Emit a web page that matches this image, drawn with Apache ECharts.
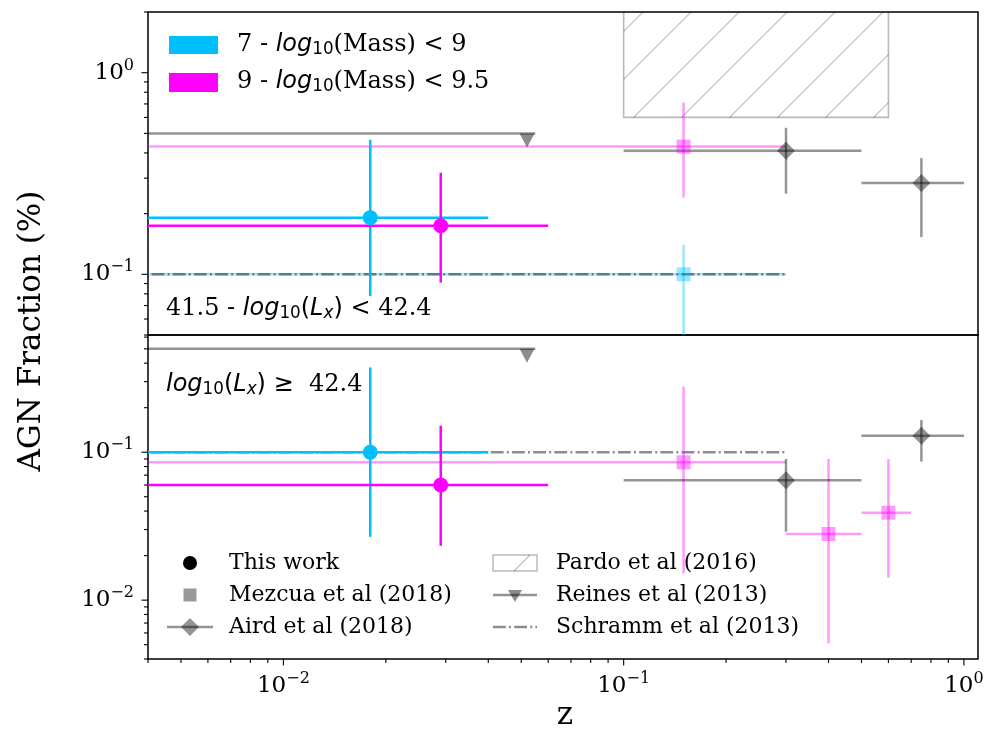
<!DOCTYPE html>
<html>
<head>
<meta charset="utf-8">
<script src="https://cdn.jsdelivr.net/npm/echarts@6/dist/echarts.min.js"></script>
<style>
html, body { margin: 0; padding: 0; background: #fff; }
#chart { width: 987px; height: 732px; }
</style>
</head>
<body>
<div id="chart"></div>
<script>
// ---------------- data (redshift z, AGN fraction) ----------------
// axis ranges
const zRange = [0.004, 1.1];
const fracRangeFaint = [0.05, 2];      // upper panel: 41.5 <= log Lx < 42.4
const fracRangeBright = [0.004, 0.62]; // lower panel: log Lx >= 42.4

// major tick values (labelled as powers of ten)
const zMajorTicks = [0.01, 0.1, 1];
const fracMajorTicksFaint = [0.1, 1];
const fracMajorTicksBright = [0.01, 0.1];

// This work: index 0 = 7-9 mass bin, index 1 = 9-9.5 mass bin
const thisWorkZ = [0.018, 0.029];
const thisWorkZLo = [0.002, 0.002];
const thisWorkZHi = [0.040, 0.060];
const thisWorkFaint = [0.191, 0.174];
const thisWorkFaintLo = [0.078, 0.091];
const thisWorkFaintHi = [0.465, 0.319];
const thisWorkBright = [0.100, 0.060];
const thisWorkBrightLo = [0.0268, 0.0233];
const thisWorkBrightHi = [0.374, 0.151];

// Mezcua et al (2018)
const mezcuaFaintLowMassZ = [0.15];
const mezcuaFaintLowMassZLo = [0.002];
const mezcuaFaintLowMassZHi = [0.3];
const mezcuaFaintLowMass = [0.10];
const mezcuaFaintLowMassLo = [0.03];
const mezcuaFaintLowMassHi = [0.14];

const mezcuaFaintHighMassZ = [0.15];
const mezcuaFaintHighMassZLo = [0.002];
const mezcuaFaintHighMassZHi = [0.3];
const mezcuaFaintHighMass = [0.43];
const mezcuaFaintHighMassLo = [0.24];
const mezcuaFaintHighMassHi = [0.71];

const mezcuaBrightZ = [0.15, 0.40, 0.60];
const mezcuaBrightZLo = [0.002, 0.3, 0.5];
const mezcuaBrightZHi = [0.3, 0.5, 0.7];
const mezcuaBright = [0.0855, 0.028, 0.039];
const mezcuaBrightLo = [0.0152, 0.0051, 0.0142];
const mezcuaBrightHi = [0.278, 0.090, 0.090];

// Aird et al (2018)
const airdZ = [0.3, 0.75];
const airdZLo = [0.1, 0.5];
const airdZHi = [0.5, 1.0];
const airdFaint = [0.41, 0.284];
const airdFaintLo = [0.251, 0.153];
const airdFaintHi = [0.533, 0.377];
const airdBright = [0.0646, 0.129];
const airdBrightLo = [0.029, 0.0864];
const airdBrightHi = [0.090, 0.165];

// Pardo et al (2016): shaded region
const pardoZ = [0.1, 0.6];
const pardoFrac = [0.6, 3];

// Reines et al (2013): upper limit
const reinesZ = [0.052];
const reinesZLo = [0.002];
const reinesZHi = [0.055];
const reinesFrac = [0.5];

// Schramm et al (2013)
const schrammZ = [0.002, 0.3];
const schrammFrac = [0.1];

// ---------------- styling ----------------
const SERIF = 'DejaVu Serif';
const SANS = 'DejaVu Sans';
const CYAN = '#00BFFF';
const MAGENTA = '#FF00FF';
const CYAN_A = 'rgba(0,191,255,0.4)';
const MAGENTA_A = 'rgba(255,0,255,0.4)';
const GREY_A = 'rgba(0,0,0,0.42)';
const HATCH = 'rgba(0,0,0,0.27)';
const LW = 2.5;

function rows(z, zLo, zHi, f, fLo, fHi) {
  return z.map((v, i) => [v, f[i], zLo[i], zHi[i], fLo[i], fHi[i]]);
}

function errorBars(name, data, color, gridIdx) {
  return {
    type: 'custom', name: name, xAxisIndex: gridIdx, yAxisIndex: gridIdx,
    clip: true, encode: { x: 0, y: 1 }, data: data,
    renderItem: function (params, api) {
      const c = api.coord([api.value(0), api.value(1)]);
      const l = api.coord([api.value(2), api.value(1)]);
      const r = api.coord([api.value(3), api.value(1)]);
      const b = api.coord([api.value(0), api.value(4)]);
      const t = api.coord([api.value(0), api.value(5)]);
      return { type: 'group', children: [
        { type: 'line', shape: { x1: l[0], y1: c[1], x2: r[0], y2: c[1] }, style: { stroke: color, lineWidth: LW } },
        { type: 'line', shape: { x1: c[0], y1: b[1], x2: c[0], y2: t[1] }, style: { stroke: color, lineWidth: LW } }
      ] };
    }
  };
}

function markers(name, data, symbol, size, color, gridIdx, extra) {
  return Object.assign({
    type: 'scatter', name: name, xAxisIndex: gridIdx, yAxisIndex: gridIdx,
    symbol: symbol, symbolSize: size, itemStyle: { color: color, opacity: 1 },
    data: data.map(d => [d[0], d[1]]), silent: true
  }, extra || {});
}

function hLine(name, zLo, zHi, frac, color, dash, gridIdx) {
  return {
    type: 'custom', name: name, xAxisIndex: gridIdx, yAxisIndex: gridIdx,
    clip: true, encode: { x: 0, y: 1 }, data: [[zLo, frac, zHi]],
    renderItem: function (params, api) {
      const a = api.coord([api.value(0), api.value(1)]);
      const b = api.coord([api.value(2), api.value(1)]);
      return { type: 'line', shape: { x1: a[0], y1: a[1], x2: b[0], y2: b[1] },
        style: { stroke: color, lineWidth: LW, lineDash: dash } };
    }
  };
}

// hatched rectangle (Pardo et al)
function hatchedBox(gridIdx) {
  return {
    type: 'custom', name: 'Pardo et al (2016)', xAxisIndex: gridIdx, yAxisIndex: gridIdx,
    clip: true, encode: { x: 0, y: 1 }, data: [[pardoZ[0], pardoFrac[0], pardoZ[1], pardoFrac[1]]],
    renderItem: function (params, api) {
      const cs = params.coordSys;
      const p0 = api.coord([api.value(0), api.value(3)]);
      const p1 = api.coord([api.value(2), api.value(1)]);
      const x0 = p0[0], x1 = p1[0];
      const y0 = Math.max(p0[1], cs.y - 2), y1 = p1[1];
      const children = [{ type: 'rect', shape: { x: x0, y: p0[1], width: x1 - x0, height: y1 - p0[1] },
        style: { fill: 'none', stroke: HATCH, lineWidth: 1.6 } }];
      const step = 48;
      const cStart = x0 + 10 + y1;
      for (let c = cStart - 20 * step; c < x1 + y1 + step; c += step) {
        const xa = Math.max(x0, c - y1);
        const xb = Math.min(x1, c - y0);
        if (xb > xa) {
          children.push({ type: 'line', shape: { x1: xa, y1: c - xa, x2: xb, y2: c - xb },
            style: { stroke: HATCH, lineWidth: 1.1 } });
        }
      }
      return { type: 'group', children: children };
    }
  };
}

// log ticks drawn through the axis scales
function minorValues(range) {
  const out = [];
  for (let e = -4; e <= 1; e++) {
    for (let m = 1; m <= 9; m++) {
      const v = m * Math.pow(10, e);
      if (v >= range[0] * 0.999 && v <= range[1] * 1.001) out.push([v, m === 1 ? 1 : 0]);
    }
  }
  return out;
}
function yTicks(gridIdx, range) {
  return {
    type: 'custom', xAxisIndex: gridIdx, yAxisIndex: gridIdx, clip: false, silent: true, z: 5,
    encode: { x: 0, y: 1 },
    data: minorValues(range).map(d => [0.01, d[0], d[1]]),
    renderItem: function (params, api) {
      const y = api.coord([api.value(0), api.value(1)])[1];
      const x = params.coordSys.x;
      const len = api.value(2) ? 6.5 : 4;
      return { type: 'line', shape: { x1: x - len, y1: y, x2: x, y2: y }, style: { stroke: '#000', lineWidth: 1.1 } };
    }
  };
}
function xTicks(gridIdx, range) {
  return {
    type: 'custom', xAxisIndex: gridIdx, yAxisIndex: gridIdx, clip: false, silent: true, z: 5,
    encode: { x: 0, y: 1 },
    data: minorValues(range).map(d => [d[0], 0.01, d[1]]),
    renderItem: function (params, api) {
      const x = api.coord([api.value(0), api.value(1)])[0];
      const y = params.coordSys.y + params.coordSys.height;
      const len = api.value(2) ? 6.5 : 4;
      return { type: 'line', shape: { x1: x, y1: y, x2: x, y2: y + len }, style: { stroke: '#000', lineWidth: 1.1 } };
    }
  };
}

function powLabel(majors) {
  return function (v) {
    const hit = majors.find(m => Math.abs(Math.log10(v) - Math.log10(m)) < 1e-6);
    if (hit === undefined) return '';
    const e = Math.round(Math.log10(hit));
    return '{b|10}{s|' + (e < 0 ? '\u2212' + (-e) : String(e)) + '}';
  };
}
const tickRich = {
  b: { fontFamily: SERIF, fontSize: 23, color: '#000', verticalAlign: 'middle' },
  s: { fontFamily: SERIF, fontSize: 16, color: '#000', verticalAlign: 'middle', padding: [0, 0, 14, 0] }
};

function xAxisDef(gridIdx, showLabels) {
  return {
    type: 'log', logBase: 10, gridIndex: gridIdx, min: zRange[0], max: zRange[1],
    axisLine: { show: false }, axisTick: { show: false }, splitLine: { show: false },
    axisLabel: { show: showLabels, formatter: powLabel(zMajorTicks), rich: tickRich, margin: 12 }
  };
}
function yAxisDef(gridIdx, range, majors) {
  return {
    type: 'log', logBase: 10, gridIndex: gridIdx, min: range[0], max: range[1],
    axisLine: { show: false }, axisTick: { show: false }, splitLine: { show: false },
    axisLabel: { formatter: powLabel(majors), rich: tickRich, margin: 14 }
  };
}

// ---------------- series ----------------
const faintThisWork = rows(thisWorkZ, thisWorkZLo, thisWorkZHi, thisWorkFaint, thisWorkFaintLo, thisWorkFaintHi);
const brightThisWork = rows(thisWorkZ, thisWorkZLo, thisWorkZHi, thisWorkBright, thisWorkBrightLo, thisWorkBrightHi);
const faintMezLow = rows(mezcuaFaintLowMassZ, mezcuaFaintLowMassZLo, mezcuaFaintLowMassZHi, mezcuaFaintLowMass, mezcuaFaintLowMassLo, mezcuaFaintLowMassHi);
const faintMezHigh = rows(mezcuaFaintHighMassZ, mezcuaFaintHighMassZLo, mezcuaFaintHighMassZHi, mezcuaFaintHighMass, mezcuaFaintHighMassLo, mezcuaFaintHighMassHi);
const brightMez = rows(mezcuaBrightZ, mezcuaBrightZLo, mezcuaBrightZHi, mezcuaBright, mezcuaBrightLo, mezcuaBrightHi);
const faintAird = rows(airdZ, airdZLo, airdZHi, airdFaint, airdFaintLo, airdFaintHi);
const brightAird = rows(airdZ, airdZLo, airdZHi, airdBright, airdBrightLo, airdBrightHi);

const DASHDOT = [12.8, 3.2, 2, 3.2];

const series = [];
[0, 1].forEach(function (g) {
  if (g === 0) series.push(hatchedBox(0));
  // Reines et al upper limit
  series.push(hLine('Reines et al (2013)', reinesZLo[0], reinesZHi[0], reinesFrac[0], GREY_A, null, g));
  series.push(markers('Reines et al (2013)', reinesZ.map(z => [z, reinesFrac[0]]), 'triangle', [15, 14], 'rgba(0,0,0,0.45)', g,
    { symbolRotate: 180, symbolOffset: [0, 7] }));
  if (g === 0) {
    series.push(errorBars('Mezcua low', faintMezLow, CYAN_A, 0));
    series.push(markers('Mezcua low', faintMezLow, 'rect', 14, CYAN_A, 0));
  }
  // Schramm et al
  series.push(hLine('Schramm et al (2013)', schrammZ[0], schrammZ[1], schrammFrac[0], 'rgba(0,0,0,0.45)', DASHDOT, g));
  const mez = g === 0 ? faintMezHigh : brightMez;
  series.push(errorBars('Mezcua high', mez, MAGENTA_A, g));
  series.push(markers('Mezcua high', mez, 'rect', 14, MAGENTA_A, g));
  const aird = g === 0 ? faintAird : brightAird;
  series.push(errorBars('Aird et al (2018)', aird, GREY_A, g));
  series.push(markers('Aird et al (2018)', aird, 'diamond', [18, 18], GREY_A, g));
  const tw = g === 0 ? faintThisWork : brightThisWork;
  series.push(errorBars('This work low', [tw[0]], CYAN, g));
  series.push(markers('This work low', [tw[0]], 'circle', 15, CYAN, g));
  series.push(errorBars('This work high', [tw[1]], MAGENTA, g));
  series.push(markers('This work high', [tw[1]], 'circle', 15, MAGENTA, g));
});
series.push(yTicks(0, fracRangeFaint));
series.push(yTicks(1, fracRangeBright));
series.push(xTicks(1, zRange));

// ---------------- text, legends ----------------
const annRich = {
  r: { fontFamily: SERIF, fontSize: 24, color: '#000', verticalAlign: 'middle' },
  m: { fontFamily: SANS, fontSize: 24, color: '#000', verticalAlign: 'middle' },
  i: { fontFamily: SANS, fontStyle: 'italic', fontSize: 24, color: '#000', verticalAlign: 'middle' },
  sb: { fontFamily: SANS, fontSize: 16.8, color: '#000', verticalAlign: 'middle', padding: [10, 0, 0, 0] },
  sbi: { fontFamily: SANS, fontStyle: 'italic', fontSize: 16.8, color: '#000', verticalAlign: 'middle', padding: [10, 0, 0, 0] }
};
function richText(x, y, text, extra) {
  return Object.assign({ type: 'text', x: x, y: y, silent: true, z: 20,
    style: { text: text, rich: annRich, align: 'left', verticalAlign: 'middle',
      textAlign: 'left', textVerticalAlign: 'middle', fill: '#000' } }, extra || {});
}
function plainText(x, y, text, size, opts) {
  return Object.assign({ type: 'text', x: x, y: y, silent: true, z: 20,
    style: { text: text, fontFamily: SERIF, fontSize: size, fill: '#000', align: 'left', verticalAlign: 'middle',
      textAlign: 'left', textVerticalAlign: 'middle' } }, opts || {});
}

const legendGrey = 'rgba(0,0,0,0.42)';
const graphics = [
  // mass-bin legend
  { type: 'rect', shape: { x: 169, y: 36, width: 49, height: 18 }, style: { fill: CYAN }, z: 20 },
  { type: 'rect', shape: { x: 169, y: 73, width: 49, height: 19 }, style: { fill: MAGENTA }, z: 20 },
  richText(237, 45, '{r|7 - }{i|log}{sb|10}{r|(Mass) < 9}'),
  richText(237, 82, '{r|9 - }{i|log}{sb|10}{r|(Mass) < 9.5}'),
  // panel labels
  richText(166, 309, '{r|41.5 - }{i|log}{sb|10}{m|(}{i|L}{sbi|x}{m|)}{r| < 42.4}'),
  richText(166, 385, '{i|log}{sb|10}{m|(}{i|L}{sbi|x}{m|) \u2265  }{r|42.4}'),
  // study legend, first column
  { type: 'circle', shape: { cx: 190, cy: 563, r: 7 }, style: { fill: '#000' }, z: 20 },
  plainText(229, 563, 'This work', 22),
  { type: 'rect', shape: { x: 183.5, y: 588.5, width: 13, height: 13 }, style: { fill: 'rgba(128,128,128,0.8)' }, z: 20 },
  plainText(229, 595, 'Mezcua et al (2018)', 22),
  { type: 'line', shape: { x1: 167, y1: 627, x2: 213, y2: 627 }, style: { stroke: legendGrey, lineWidth: LW }, z: 20 },
  { type: 'polygon', shape: { points: [[190, 618], [199, 627], [190, 636], [181, 627]] }, style: { fill: legendGrey }, z: 20 },
  plainText(229, 627, 'Aird et al (2018)', 22),
  // second column
  { type: 'rect', shape: { x: 493, y: 555, width: 44, height: 16 }, style: { fill: 'none', stroke: HATCH, lineWidth: 1.5 }, z: 20 },
  { type: 'line', shape: { x1: 514, y1: 571, x2: 530, y2: 555 }, style: { stroke: HATCH, lineWidth: 1.1 }, z: 20 },
  plainText(556, 563, 'Pardo et al (2016)', 22),
  { type: 'line', shape: { x1: 493, y1: 595, x2: 537, y2: 595 }, style: { stroke: legendGrey, lineWidth: LW }, z: 20 },
  { type: 'polygon', shape: { points: [[508, 590], [522, 590], [515, 602]] }, style: { fill: 'rgba(0,0,0,0.45)' }, z: 20 },
  plainText(556, 595, 'Reines et al (2013)', 22),
  { type: 'line', shape: { x1: 493, y1: 627, x2: 537, y2: 627 }, style: { stroke: 'rgba(0,0,0,0.45)', lineWidth: LW, lineDash: DASHDOT }, z: 20 },
  plainText(556, 627, 'Schramm et al (2013)', 22),
  // axis titles
  plainText(32, 331, 'AGN Fraction (%)', 31, { rotation: Math.PI / 2,
    style: { text: 'AGN Fraction (%)', fontFamily: SERIF, fontSize: 31, fill: '#000', align: 'center', verticalAlign: 'middle',
      textAlign: 'center', textVerticalAlign: 'middle' } }),
  plainText(565, 716, 'z', 31, {
    style: { text: 'z', fontFamily: SERIF, fontSize: 31, fill: '#000', align: 'center', verticalAlign: 'middle',
      textAlign: 'center', textVerticalAlign: 'middle' } })
];

const chart = echarts.init(document.getElementById('chart'), null, { renderer: 'canvas' });
chart.setOption({
  backgroundColor: '#fff',
  animation: false,
  grid: [
    { left: 148, top: 12, width: 830, height: 323, show: true, borderColor: '#000', borderWidth: 1.5, backgroundColor: 'transparent' },
    { left: 148, top: 335, width: 830, height: 324, show: true, borderColor: '#000', borderWidth: 1.5, backgroundColor: 'transparent' }
  ],
  xAxis: [xAxisDef(0, false), xAxisDef(1, true)],
  yAxis: [yAxisDef(0, fracRangeFaint, fracMajorTicksFaint), yAxisDef(1, fracRangeBright, fracMajorTicksBright)],
  series: series,
  graphic: { elements: graphics }
});
</script>
</body>
</html>
